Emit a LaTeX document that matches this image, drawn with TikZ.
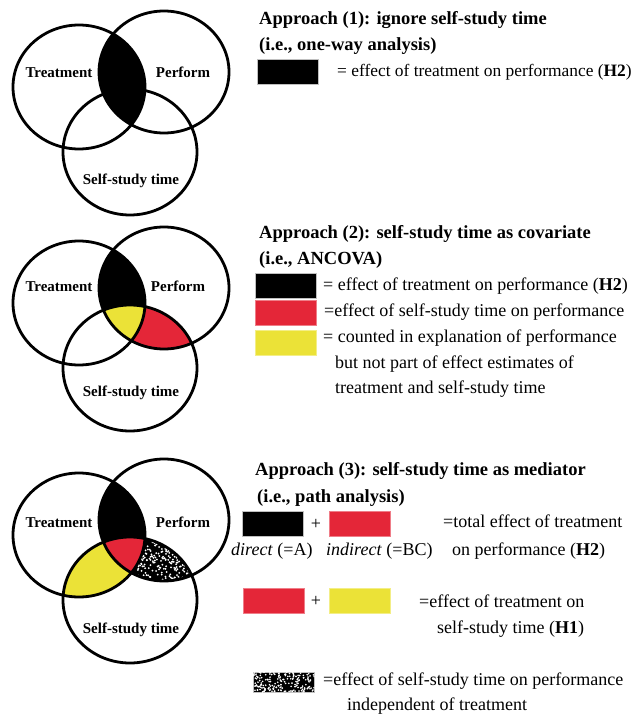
\documentclass[tikz,border=0pt]{standalone}
\usepackage{fontspec}
\setmainfont{Liberation Serif}
\usetikzlibrary{positioning}
\definecolor{vred}{RGB}{228,38,56}
\definecolor{vyellow}{RGB}{235,226,55}
\tikzset{
  ring/.style={draw, line width=2.8pt},
  lbl/.style={font=\fontsize{15}{18}\selectfont\bfseries, anchor=base, inner sep=0pt},
  head/.style={font=\fontsize{18.5}{22}\selectfont\bfseries, anchor=base west, inner sep=0pt},
  txt/.style={font=\fontsize{18}{22}\selectfont, anchor=base west, inner sep=0pt},
  swatch/.style={rectangle, minimum width=61pt, minimum height=25pt, inner sep=0pt, anchor=north west, draw=gray!50, line width=0.5pt},
  noisedot/.style={fill=white}
}
\newcommand{\circT}{(79,87) ellipse [x radius=66pt, y radius=62pt]}
\newcommand{\circP}{(164,72) ellipse [x radius=65pt, y radius=61pt]}
\newcommand{\circS}{(130,152) ellipse [x radius=67pt, y radius=63pt]}

\begin{document}
\begin{tikzpicture}[x=1pt, y=-1pt]
\useasboundingbox (0,0) rectangle (638,714);

% approach 1
\begin{scope}
  \clip \circT; \fill[black] \circP;
\end{scope}
\draw[ring] \circT; \draw[ring] \circP; \draw[ring] \circS;
\node[lbl] (tre1) at (59,78) {Treatment};
\node[lbl] (per1) at (183,78) {Perform};
\node[lbl] (sst1) at (131,185) {Self-study time};

\node[head] (h1a) at (259,25) {Approach (1): ignore self-study time};
\node[head] (h1b) at (259,51) {(i.e., one-way analysis)};
\node[swatch, fill=black] (k1) at (257,59) {};
\node[txt, font=\fontsize{17.4}{21}\selectfont] (t1) at (337,77) {= effect of treatment on performance (\textbf{H2})};

% approach 2
\begin{scope}[shift={(0,216)}]
  \begin{scope}
    \clip \circP; \fill[vred] \circS;
  \end{scope}
  \begin{scope}
    \clip \circT; \fill[black] \circP;
    \clip \circP; \fill[vyellow] \circS;
  \end{scope}
  \draw[ring] \circT; \draw[ring] \circP; \draw[ring] \circS;
  \node[lbl] (tre2) at (59,75) {Treatment};
  \node[lbl] (per2) at (178,75) {Perform};
  \node[lbl] (sst2) at (131,180) {Self-study time};
\end{scope}

\node[head] (h2a) at (259,238) {Approach (2): self-study time as covariate};
\node[head] (h2b) at (259,264) {(i.e., ANCOVA)};
\node[swatch, fill=black] (k2a) at (255,273) {};
\node[swatch, fill=vred, draw=vred!60] (k2b) at (255,300) {};
\node[swatch, fill=vyellow, draw=vyellow!60] (k2c) at (255,330) {};
\node[txt] (t2a) at (323,290) {= effect of treatment on performance (\textbf{H2})};
\node[txt] (t2b) at (324,316) {=effect of self-study time on performance};
\node[txt] (t2c) at (323,342) {= counted in explanation of performance};
\node[txt] (t2d) at (335,368) {but not part of effect estimates of};
\node[txt] (t2e) at (335,393) {treatment and self-study time};

% approach 3
\begin{scope}[shift={(0,448)}]
  \begin{scope}
    \clip \circT; \fill[vyellow] \circS;
  \end{scope}
  \begin{scope}
    \clip \circP; \fill[black] \circS;
    \pgfmathsetseed{42}
    \foreach \i in {1,...,650}{
      \pgfmathsetmacro{\nx}{120+90*rnd}
      \pgfmathsetmacro{\ny}{80+75*rnd}
      \fill[noisedot] (\nx,\ny) circle[radius=1pt];
    }
  \end{scope}
  \begin{scope}
    \clip \circT; \fill[black] \circP;
    \clip \circP; \fill[vred] \circS;
  \end{scope}
  \draw[ring] \circT; \draw[ring] \circP; \draw[ring] \circS;
  \node[lbl] (tre3) at (59,79) {Treatment};
  \node[lbl] (per3) at (183,79) {Perform};
  \node[lbl] (sst3) at (131,185) {Self-study time};
\end{scope}

\node[head] (h3a) at (255,475) {Approach (3): self-study time as mediator};
\node[head] (h3b) at (257,502) {(i.e., path analysis)};
\node[swatch, fill=black] (k3a) at (242,511) {};
\node[txt, anchor=center] (pl1) at (316,524) {+};
\node[swatch, fill=vred, draw=vred!60] (k3b) at (329,511) {};
\node[txt] (t3a) at (443,527) {=total effect of treatment};
\node[txt] (dir) at (231,555) {\textit{direct} (=A)};
\node[txt] (ind) at (326,555) {\textit{indirect} (=BC)};
\node[txt] (t3b) at (452,555) {on performance (\textbf{H2})};

\node[swatch, fill=vred, draw=vred!60] (k3c) at (243,588) {};
\node[txt, anchor=center] (pl2) at (316,601) {+};
\node[swatch, fill=vyellow, draw=vyellow!60] (k3d) at (329,588) {};
\node[txt] (t3c) at (419,607) {=effect of treatment on};
\node[txt] (t3d) at (437,633) {self-study time (\textbf{H1})};

\node[swatch, fill=black, minimum height=20pt] (k3e) at (253,672) {};
\begin{scope}
  \clip (k3e.north west) rectangle (k3e.south east);
  \pgfmathsetseed{7}
  \foreach \i in {1,...,190}{
    \pgfmathsetmacro{\nx}{253+62*rnd}
    \pgfmathsetmacro{\ny}{672+20*rnd}
    \fill[noisedot] (\nx,\ny) circle[radius=0.9pt];
  }
\end{scope}
\node[txt] (t3e) at (323,685) {=effect of self-study time on performance};
\node[txt] (t3f) at (347,710) {independent of treatment};
\end{tikzpicture}
\end{document}
